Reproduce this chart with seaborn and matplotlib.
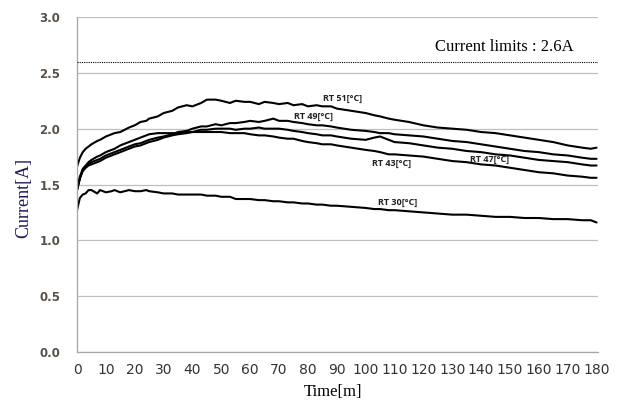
import numpy as np
import pandas as pd
import matplotlib
matplotlib.use("Agg")
import matplotlib.pyplot as plt
from matplotlib.ticker import MultipleLocator, FormatStrFormatter
import seaborn as sns

# Sampling times [min]
time_min = [
    0, 1, 2, 3, 4, 5, 7, 8,
    10, 12, 13, 15, 18, 20, 22, 24,
    25, 28, 30, 33, 35, 38, 40, 43,
    45, 48, 50, 53, 55, 58, 60, 63,
    65, 68, 70, 73, 75, 78, 80, 83,
    85, 88, 90, 95, 100, 103, 105, 108,
    110, 115, 120, 125, 130, 135, 140, 145,
    150, 155, 160, 165, 170, 175, 178, 180,
]

# Measured current [A] per room temperature
rt51 = [
    1.66, 1.74, 1.79, 1.82, 1.84, 1.86, 1.89, 1.90,
    1.93, 1.95, 1.96, 1.97, 2.01, 2.03, 2.06, 2.07,
    2.09, 2.11, 2.14, 2.16, 2.19, 2.21, 2.20, 2.23,
    2.26, 2.26, 2.25, 2.23, 2.25, 2.24, 2.24, 2.22,
    2.24, 2.23, 2.22, 2.23, 2.21, 2.22, 2.20, 2.21,
    2.20, 2.20, 2.18, 2.16, 2.14, 2.12, 2.11, 2.09,
    2.08, 2.06, 2.03, 2.01, 2.00, 1.99, 1.97, 1.96,
    1.94, 1.92, 1.90, 1.88, 1.85, 1.83, 1.82, 1.83,
]
rt49 = [
    1.45, 1.55, 1.63, 1.66, 1.68, 1.70, 1.72, 1.73,
    1.76, 1.78, 1.79, 1.81, 1.84, 1.86, 1.87, 1.89,
    1.90, 1.92, 1.93, 1.95, 1.97, 1.98, 2.00, 2.02,
    2.02, 2.04, 2.03, 2.05, 2.05, 2.06, 2.07, 2.06,
    2.07, 2.09, 2.07, 2.07, 2.06, 2.05, 2.04, 2.03,
    2.03, 2.02, 2.01, 1.99, 1.98, 1.97, 1.96, 1.96,
    1.95, 1.94, 1.93, 1.91, 1.89, 1.88, 1.86, 1.84,
    1.82, 1.80, 1.79, 1.77, 1.76, 1.74, 1.73, 1.73,
]
rt47 = [
    1.45, 1.56, 1.62, 1.65, 1.67, 1.68, 1.70, 1.71,
    1.74, 1.76, 1.77, 1.79, 1.82, 1.84, 1.85, 1.87,
    1.88, 1.90, 1.92, 1.94, 1.95, 1.96, 1.97, 1.99,
    1.99, 2.00, 2.00, 2.00, 1.99, 2.00, 2.00, 2.01,
    2.00, 2.00, 2.00, 1.99, 1.98, 1.97, 1.96, 1.95,
    1.94, 1.94, 1.93, 1.91, 1.90, 1.92, 1.93, 1.90,
    1.88, 1.87, 1.85, 1.83, 1.82, 1.80, 1.79, 1.77,
    1.76, 1.74, 1.72, 1.71, 1.70, 1.68, 1.67, 1.67,
]
rt43 = [
    1.45, 1.57, 1.64, 1.67, 1.70, 1.72, 1.75, 1.76,
    1.79, 1.81, 1.82, 1.85, 1.88, 1.90, 1.92, 1.94,
    1.95, 1.96, 1.96, 1.96, 1.96, 1.97, 1.97, 1.97,
    1.97, 1.97, 1.97, 1.96, 1.96, 1.96, 1.95, 1.94,
    1.94, 1.93, 1.92, 1.91, 1.91, 1.89, 1.88, 1.87,
    1.86, 1.86, 1.85, 1.83, 1.81, 1.80, 1.79, 1.77,
    1.77, 1.76, 1.75, 1.73, 1.71, 1.70, 1.68, 1.67,
    1.65, 1.63, 1.61, 1.60, 1.58, 1.57, 1.56, 1.56,
]
rt30 = [
    1.27, 1.38, 1.41, 1.42, 1.45, 1.45, 1.42, 1.45,
    1.43, 1.44, 1.45, 1.43, 1.45, 1.44, 1.44, 1.45,
    1.44, 1.43, 1.42, 1.42, 1.41, 1.41, 1.41, 1.41,
    1.40, 1.40, 1.39, 1.39, 1.37, 1.37, 1.37, 1.36,
    1.36, 1.35, 1.35, 1.34, 1.34, 1.33, 1.33, 1.32,
    1.32, 1.31, 1.31, 1.30, 1.29, 1.28, 1.28, 1.27,
    1.27, 1.26, 1.25, 1.24, 1.23, 1.23, 1.22, 1.21,
    1.21, 1.20, 1.20, 1.19, 1.19, 1.18, 1.18, 1.16,
]

series_names = ["RT 51[°C]", "RT 49[°C]", "RT 47[°C]", "RT 43[°C]", "RT 30[°C]"]
series_values = [rt51, rt49, rt47, rt43, rt30]
current_limit = 2.6
y_ticks = [0.0, 0.5, 1.0, 1.5, 2.0, 2.5, 3.0]
x_ticks = list(range(0, 181, 10))

frames = [
    pd.DataFrame({"Time": time_min, "Current": vals, "Series": name})
    for name, vals in zip(series_names, series_values)
]
df = pd.concat(frames, ignore_index=True)

sns.set_style("white")
plt.rcParams["font.family"] = ["DejaVu Sans"]

fig = plt.figure(figsize=(6.22, 4.03), dpi=100)
ax = fig.add_axes([77 / 622, 51 / 403, 521 / 622, 335 / 403])

sns.lineplot(
    data=df, x="Time", y="Current", hue="Series",
    palette=["black"] * len(series_names), linewidth=1.5,
    legend=False, ax=ax, estimator=None, sort=False,
)

# current limit reference line
ax.axhline(current_limit, color="black", linestyle=(0, (1, 1)), linewidth=0.8, zorder=3)
ax.text(148, current_limit + 0.135, f"Current limits : {current_limit}A",
        family=["Liberation Serif", "DejaVu Serif"], fontsize=12,
        ha="center", va="center", color="black")

# series labels placed beside their curves
label_pos = {
    "RT 51[°C]": (92, 2.27),
    "RT 49[°C]": (82, 2.11),
    "RT 43[°C]": (109, 1.685),
    "RT 47[°C]": (143, 1.725),
    "RT 30[°C]": (111, 1.335),
}
for name, (tx, ty) in label_pos.items():
    ax.text(tx, ty, name, fontsize=6.5, fontweight="bold", color="#222222",
            family=["Open Sans", "DejaVu Sans"], ha="center", va="center")

ax.set_xlim(0, 180.5)
ax.set_ylim(0, 3.0)
ax.set_yticks(y_ticks)
ax.yaxis.set_major_formatter(FormatStrFormatter("%.1f"))
ax.set_xticks(x_ticks)
ax.xaxis.set_minor_locator(MultipleLocator(1))

ax.grid(axis="y", color="#bfbfbf", linewidth=0.9)
ax.grid(axis="x", visible=False)
ax.set_axisbelow(True)

for side in ["top", "right"]:
    ax.spines[side].set_visible(False)
for side in ["left", "bottom"]:
    ax.spines[side].set_color("#a6a6a6")
    ax.spines[side].set_linewidth(0.9)

ax.tick_params(axis="y", which="major", length=4, color="#a6a6a6", width=0.8,
               labelsize=8.5, labelcolor="#595048", pad=8)
ax.tick_params(axis="x", which="major", length=3, color="#a6a6a6", width=0.6,
               labelsize=10, labelcolor="#333333", pad=5)
ax.tick_params(axis="x", which="minor", length=3, color="#a6a6a6", width=0.6)
for lbl in ax.get_yticklabels():
    lbl.set_fontweight("bold")
for lbl in ax.get_xticklabels():
    lbl.set_family(["Liberation Sans Narrow", "DejaVu Sans"])

ax.set_xlabel("Time[m]", family=["Liberation Serif", "DejaVu Serif"],
              fontsize=12, color="black")
ax.set_ylabel("Current[A]", family=["Liberation Serif", "DejaVu Serif"],
              fontsize=13, color="#1a1a5e")
ax.xaxis.set_label_coords(0.492, -0.095)
ax.yaxis.set_label_coords(-0.085, 0.46)

fig.savefig("out.png", dpi=100)
